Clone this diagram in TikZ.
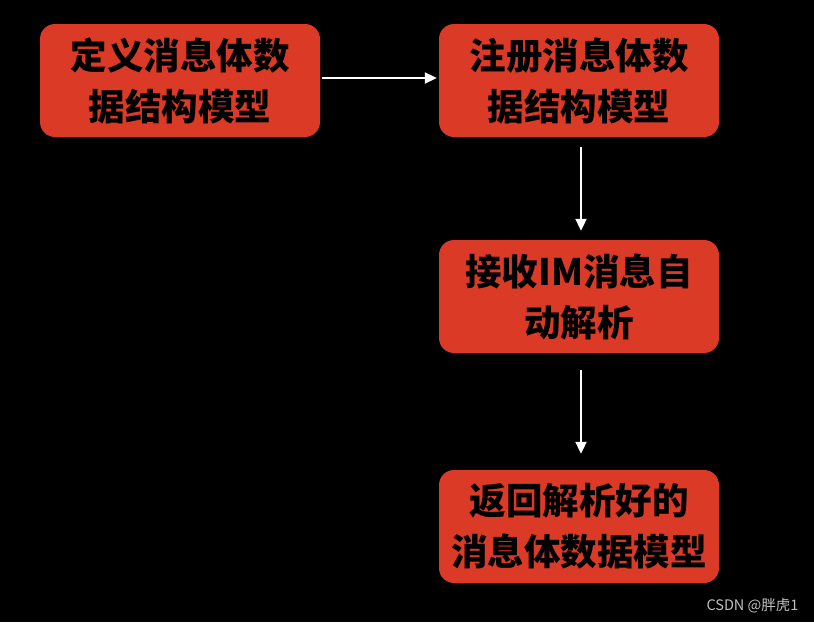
\documentclass[tikz,border=0pt]{standalone}
\usepackage{fontspec}
\usepackage{tikz}
\usetikzlibrary{arrows.meta}
\newfontfamily\cjk{Noto Sans CJK SC}

\tikzset{
	stepbox/.style={rectangle, fill=boxred, rounded corners=15pt, minimum width=280pt, minimum height=113pt, inner sep=0pt, align=center, text=black, font=\cjk\bfseries\fontsize{36.5}{51}\selectfont},
	link/.style={draw=white, line width=2pt, -{Triangle[length=12pt,width=11pt]}}
}
\definecolor{boxred}{RGB}{219,58,38}

\begin{document}
\begin{tikzpicture}[x=1pt,y=-1pt]

	\fill[black] (0,0) rectangle (814,622);
	\useasboundingbox (0,0) rectangle (814,622);

	\node[stepbox] (define) at (180,80.5) {定义消息体数\\据结构模型};
	\node[stepbox] (register) at (579,80.5) {注册消息体数\\据结构模型};
	\node[stepbox] (parse) at (579,296.5) {接收IM消息自\\动解析};
	\node[stepbox] (result) at (579,526.5) {返回解析好的\\消息体数据模型};

	\draw[link, shorten <=2pt, shorten >=2pt] ([yshift=2.5pt]define.east) -- ([yshift=2.5pt]register.west);
	\draw[link, shorten <=10pt, shorten >=9pt] ([xshift=2pt]register.south) -- ([xshift=2pt]parse.north);
	\draw[link, shorten <=17pt, shorten >=16pt] ([xshift=2pt]parse.south) -- ([xshift=2pt]result.north);

	\node[text=black!25, font=\cjk\fontsize{14.5}{16}\selectfont, anchor=east] (mark) at (802,606) {CSDN @胖虎1};

\end{tikzpicture}
\end{document}
